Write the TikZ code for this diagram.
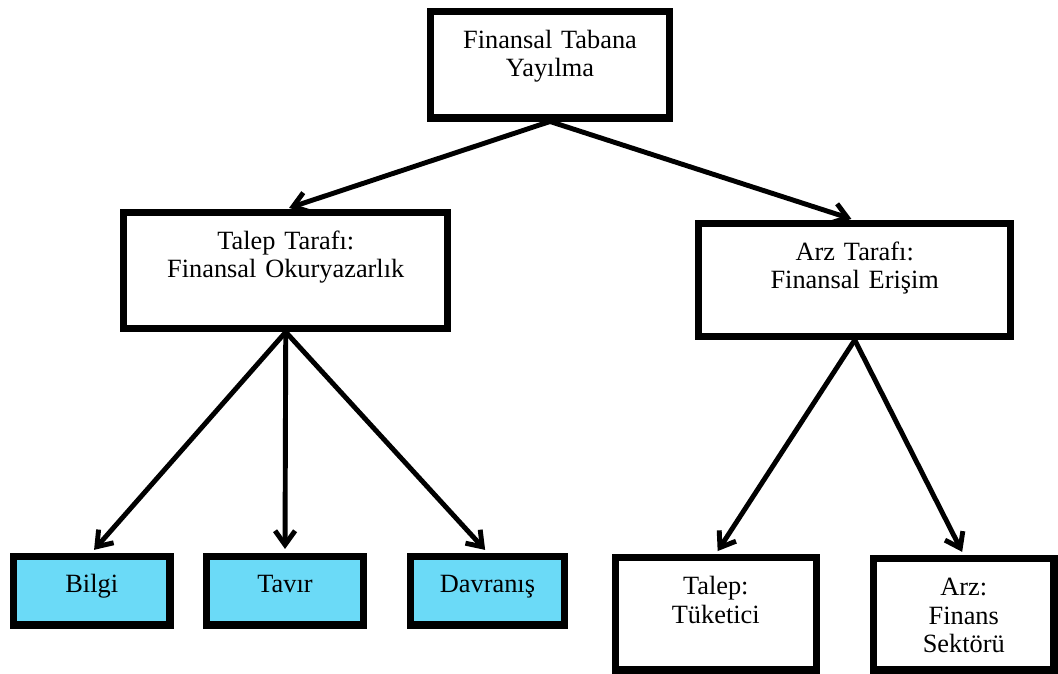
\documentclass[tikz,border=0pt]{standalone}
\usepackage{fontspec}
\setmainfont{Liberation Serif}
\usetikzlibrary{arrows.meta}
\definecolor{leafBlue}{HTML}{6BDAF7}

\tikzset{
  box/.style={draw, line width=4pt, inner sep=0pt, align=center,
    text height=0.73cm, font=\fontsize{15}{16.5}\selectfont},
  leaf/.style={box, fill=leafBlue},
  link/.style={line width=2.8pt, -{Straight Barb[length=0.28cm,width=0.4cm]}, shorten >=2pt},
}

\begin{document}
\begin{tikzpicture}[x=0.02cm, y=-0.02cm]
	\useasboundingbox (0,0) rectangle (1058,673);

	\node[box, text width=4.8cm,  text depth=1.40cm] (root)     at (550,64.75)    {Finansal Tabana\\Yayılma};
	\node[box, text width=6.49cm, text depth=1.59cm] (talep)    at (285.75,270.5) {Talep Tarafı:\\Finansal Okuryazarlık};
	\node[box, text width=6.25cm, text depth=1.53cm] (arz)      at (854.75,280)   {Arz Tarafı:\\Finansal Erişim};

	\node[leaf, text width=3.13cm, text depth=0.65cm] (bilgi)    at (91.75,590.5)  {Bilgi};
	\node[leaf, text width=3.14cm, text depth=0.65cm] (tavir)    at (285,590.5)    {Tavır};
	\node[leaf, text width=3.08cm, text depth=0.65cm] (davranis) at (487.5,590.5)  {Davranış};

	\node[box, text width=4.03cm, text depth=1.52cm] (tuketici) at (715.75,613.75) {Talep:\\Tüketici};
	\node[box, text width=3.61cm, text depth=1.50cm] (sektor)   at (963.75,614.25) {Arz:\\Finans\\Sektörü};

	\draw[link] (root.south) -- (talep.north);
	\draw[link] (root.south) -- (arz.north);
	\foreach \leafname in {bilgi, tavir, davranis}
		\draw[link] (talep.south) -- (\leafname.north);
	\draw[link] (arz.south) -- (tuketici.north);
	\draw[link] (arz.south) -- (sektor.north);
\end{tikzpicture}
\end{document}
